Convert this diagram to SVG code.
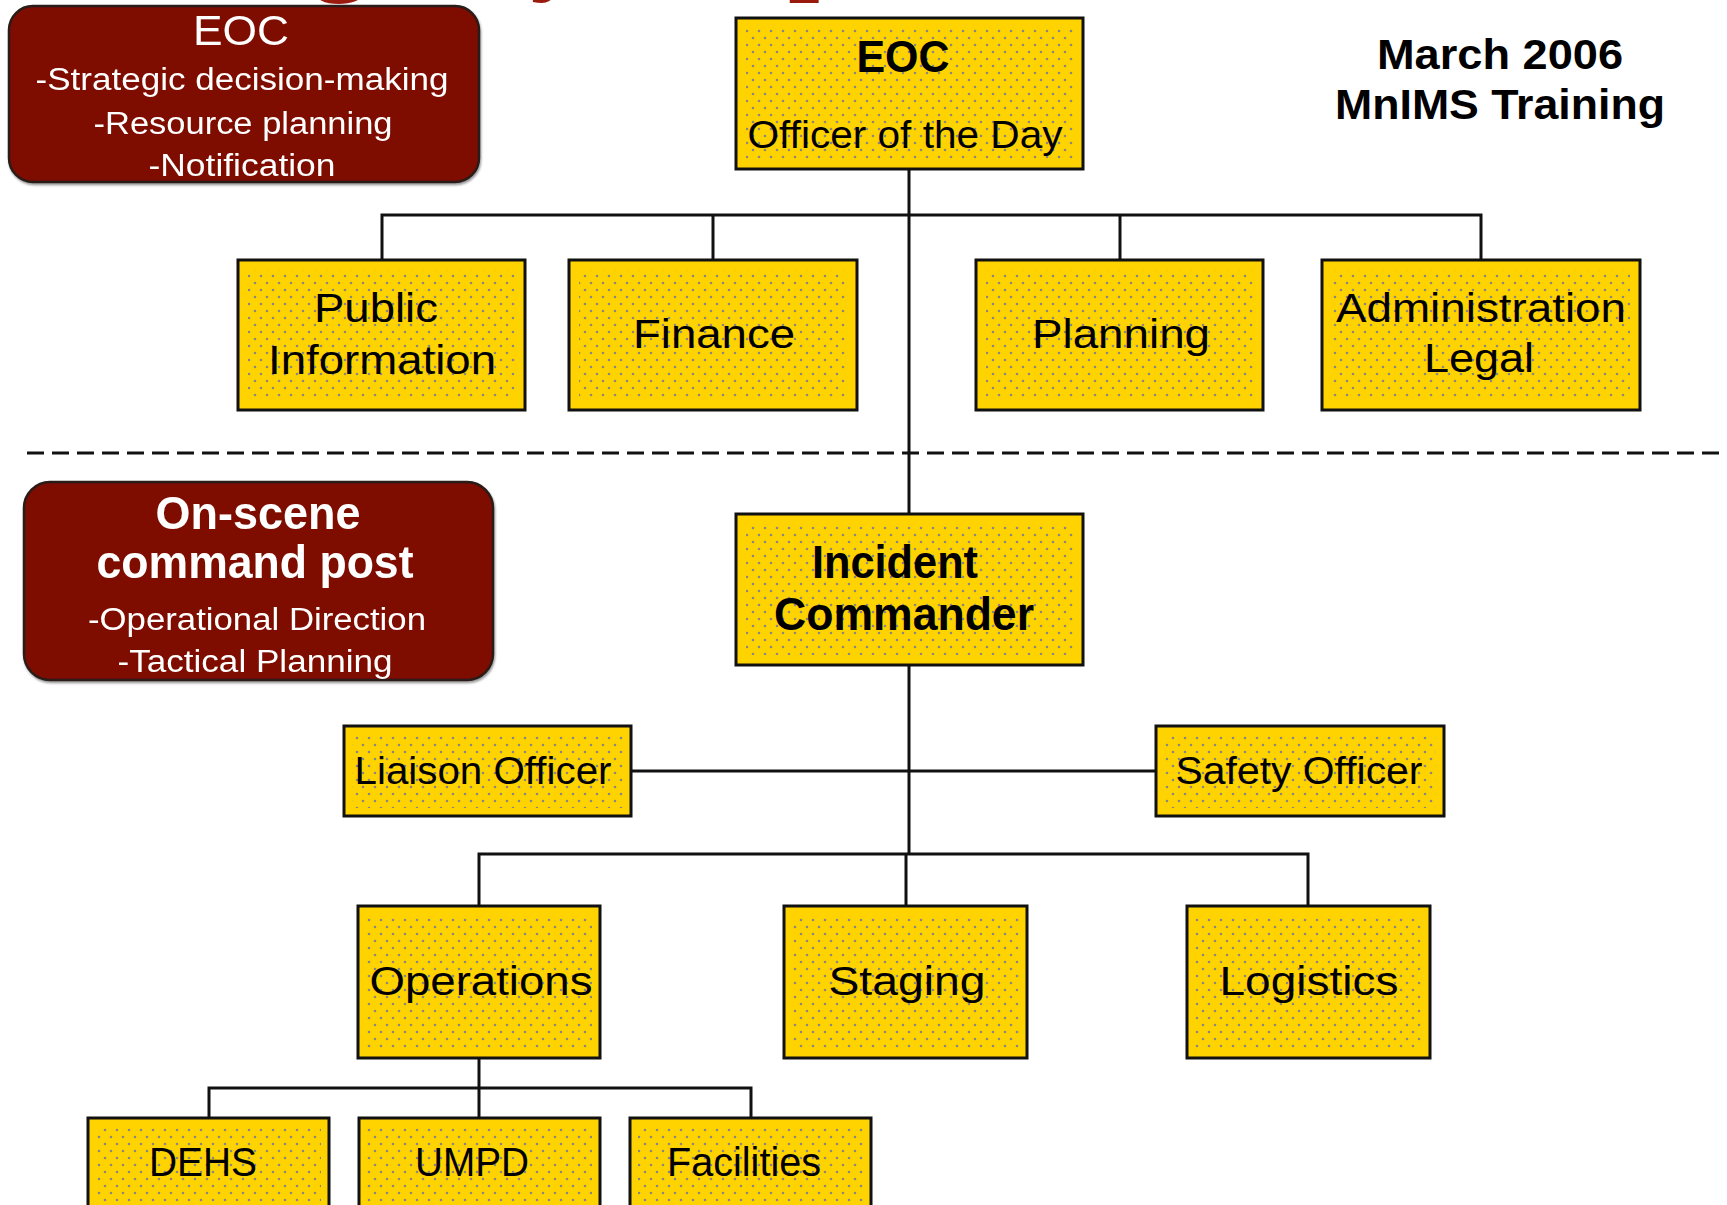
<svg xmlns="http://www.w3.org/2000/svg" width="1727" height="1205" viewBox="0 0 1727 1205">
<defs>
<pattern id="dots" width="12" height="14" patternUnits="userSpaceOnUse">
<circle cx="3" cy="3" r="1.3" fill="#8a8680"/>
<circle cx="9" cy="10" r="1.3" fill="#8a8680"/>
</pattern>
<filter id="sh" x="-5%" y="-5%" width="110%" height="115%">
<feDropShadow dx="1" dy="2" stdDeviation="1.2" flood-color="#555" flood-opacity="0.6"/>
</filter>
</defs>
<style>
.yb{fill:#FFD300;stroke:#111;stroke-width:3}
.dt{fill:url(#dots);stroke:none}
.rb{fill:#7E0F02;stroke:#2a1a18;stroke-width:2.5}
.t{font-family:"Liberation Sans",Arial,sans-serif;fill:#000;text-anchor:middle}
.w{font-family:"Liberation Sans",Arial,sans-serif;fill:#fff;text-anchor:middle}
.b{font-weight:bold}
.c{stroke:#111;stroke-width:3;fill:none}
.dash{stroke:#111;stroke-width:3;stroke-dasharray:17 8;fill:none}
</style>

<text x="45" y="-21" font-family="'Liberation Serif',serif" font-weight="bold" font-size="112" fill="#9B1A0E">Emergency Response</text>

<g id="connectors">
<line class="c" x1="909" y1="169" x2="909" y2="514"/>
<polyline class="c" points="382,260 382,215 1481,215 1481,260"/>
<line class="c" x1="713" y1="215" x2="713" y2="260"/>
<line class="c" x1="1120" y1="215" x2="1120" y2="260"/>
<line class="dash" x1="27" y1="453" x2="1727" y2="453"/>
<line class="c" x1="909" y1="665" x2="909" y2="854"/>
<line class="c" x1="906" y1="854" x2="906" y2="906"/>
<line class="c" x1="631" y1="771" x2="1156" y2="771"/>
<polyline class="c" points="479,906 479,854 1308,854 1308,906"/>
<line class="c" x1="479" y1="1058" x2="479" y2="1118"/>
<polyline class="c" points="209,1118 209,1088 751,1088 751,1118"/>
</g>

<g id="eoc-note" filter="url(#sh)">
<rect class="rb" x="9" y="6" width="470" height="176" rx="24"/>
<text class="w" x="241" y="45" font-size="42" textLength="96" lengthAdjust="spacingAndGlyphs">EOC</text>
<text class="w" x="242" y="90" font-size="31" textLength="413" lengthAdjust="spacingAndGlyphs">-Strategic decision-making</text>
<text class="w" x="243" y="134" font-size="31" textLength="299" lengthAdjust="spacingAndGlyphs">-Resource planning</text>
<text class="w" x="242" y="176" font-size="31" textLength="187" lengthAdjust="spacingAndGlyphs">-Notification</text>
</g>

<g id="onscene-note" filter="url(#sh)">
<rect class="rb" x="24" y="482" width="469" height="198" rx="26"/>
<text class="w b" x="258" y="529" font-size="46" textLength="205" lengthAdjust="spacingAndGlyphs">On-scene</text>
<text class="w b" x="255" y="578" font-size="46" textLength="317" lengthAdjust="spacingAndGlyphs">command post</text>
<text class="w" x="257" y="630" font-size="31" textLength="338" lengthAdjust="spacingAndGlyphs">-Operational Direction</text>
<text class="w" x="255" y="672" font-size="31" textLength="275" lengthAdjust="spacingAndGlyphs">-Tactical Planning</text>
</g>

<g id="date-label">
<text class="t b" x="1500" y="69" font-size="42" textLength="246" lengthAdjust="spacingAndGlyphs">March 2006</text>
<text class="t b" x="1500" y="119" font-size="42" textLength="330" lengthAdjust="spacingAndGlyphs">MnIMS Training</text>
</g>

<g id="eoc-officer">
<rect class="yb" x="736" y="18" width="347" height="151"/>
<rect class="dt" x="746" y="28" width="327" height="131"/>
<text class="t b" x="903" y="72" font-size="44" textLength="93" lengthAdjust="spacingAndGlyphs">EOC</text>
<text class="t" x="905" y="148" font-size="39" textLength="315" lengthAdjust="spacingAndGlyphs">Officer of the Day</text>
</g>

<g id="public-information">
<rect class="yb" x="238" y="260" width="287" height="150"/>
<rect class="dt" x="248" y="270" width="267" height="130"/>
<text class="t" x="376" y="322" font-size="40" textLength="124" lengthAdjust="spacingAndGlyphs">Public</text>
<text class="t" x="382" y="374" font-size="40" textLength="228" lengthAdjust="spacingAndGlyphs">Information</text>
</g>

<g id="finance">
<rect class="yb" x="569" y="260" width="288" height="150"/>
<rect class="dt" x="579" y="270" width="268" height="130"/>
<text class="t" x="714" y="348" font-size="40" textLength="162" lengthAdjust="spacingAndGlyphs">Finance</text>
</g>

<g id="planning">
<rect class="yb" x="976" y="260" width="287" height="150"/>
<rect class="dt" x="986" y="270" width="267" height="130"/>
<text class="t" x="1121" y="348" font-size="40" textLength="178" lengthAdjust="spacingAndGlyphs">Planning</text>
</g>

<g id="administration-legal">
<rect class="yb" x="1322" y="260" width="318" height="150"/>
<rect class="dt" x="1332" y="270" width="298" height="130"/>
<text class="t" x="1481" y="322" font-size="40" textLength="290" lengthAdjust="spacingAndGlyphs">Administration</text>
<text class="t" x="1479" y="372" font-size="40" textLength="110" lengthAdjust="spacingAndGlyphs">Legal</text>
</g>

<g id="incident-commander">
<rect class="yb" x="736" y="514" width="347" height="151"/>
<rect class="dt" x="746" y="524" width="327" height="131"/>
<text class="t b" x="895" y="578" font-size="46" textLength="166" lengthAdjust="spacingAndGlyphs">Incident</text>
<text class="t b" x="904" y="630" font-size="46" textLength="260" lengthAdjust="spacingAndGlyphs">Commander</text>
</g>

<g id="liaison-officer">
<rect class="yb" x="344" y="726" width="287" height="90"/>
<rect class="dt" x="352" y="734" width="271" height="74"/>
<text class="t" x="483" y="784" font-size="38" textLength="257" lengthAdjust="spacingAndGlyphs">Liaison Officer</text>
</g>

<g id="safety-officer">
<rect class="yb" x="1156" y="726" width="288" height="90"/>
<rect class="dt" x="1164" y="734" width="272" height="74"/>
<text class="t" x="1299" y="784" font-size="38" textLength="247" lengthAdjust="spacingAndGlyphs">Safety Officer</text>
</g>

<g id="operations">
<rect class="yb" x="358" y="906" width="242" height="152"/>
<rect class="dt" x="366" y="916" width="226" height="132"/>
<text class="t" x="481" y="995" font-size="40" textLength="223" lengthAdjust="spacingAndGlyphs">Operations</text>
</g>

<g id="staging">
<rect class="yb" x="784" y="906" width="243" height="152"/>
<rect class="dt" x="792" y="916" width="227" height="132"/>
<text class="t" x="907" y="995" font-size="40" textLength="157" lengthAdjust="spacingAndGlyphs">Staging</text>
</g>

<g id="logistics">
<rect class="yb" x="1187" y="906" width="243" height="152"/>
<rect class="dt" x="1195" y="916" width="227" height="132"/>
<text class="t" x="1309" y="995" font-size="40" textLength="179" lengthAdjust="spacingAndGlyphs">Logistics</text>
</g>

<g id="dehs">
<rect class="yb" x="88" y="1118" width="241" height="110"/>
<rect class="dt" x="96" y="1128" width="225" height="90"/>
<text class="t" x="203" y="1176" font-size="40" textLength="108" lengthAdjust="spacingAndGlyphs">DEHS</text>
</g>

<g id="umpd">
<rect class="yb" x="359" y="1118" width="241" height="110"/>
<rect class="dt" x="367" y="1128" width="225" height="90"/>
<text class="t" x="472" y="1176" font-size="40" textLength="114" lengthAdjust="spacingAndGlyphs">UMPD</text>
</g>

<g id="facilities">
<rect class="yb" x="630" y="1118" width="241" height="110"/>
<rect class="dt" x="638" y="1128" width="225" height="90"/>
<text class="t" x="744" y="1176" font-size="40" textLength="154" lengthAdjust="spacingAndGlyphs">Facilities</text>
</g>
</svg>
